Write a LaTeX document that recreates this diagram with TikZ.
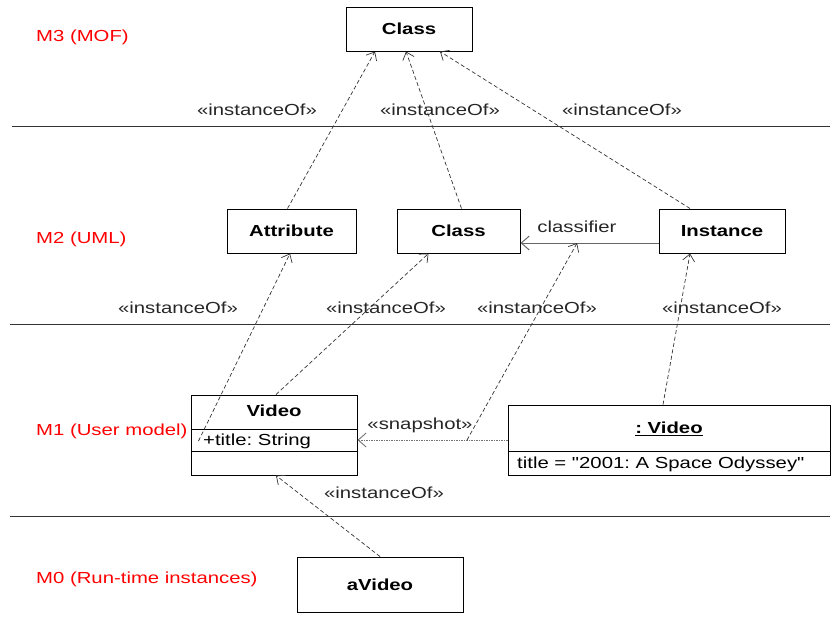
\documentclass[tikz,border=0pt]{standalone}
\usepackage{fontspec}
\setmainfont{Liberation Sans}[FakeStretch=1.27, Ligatures=TeXOff]
\usetikzlibrary{arrows.meta,calc}
\newcommand\diagsz{\fontsize{16}{19}\selectfont}
\frenchspacing
\tikzset{
  box/.style={draw=black, line width=1pt, rectangle, minimum height=44pt, inner sep=0pt, font=\diagsz\bfseries},
  lbl/.style={inner sep=0pt, text=black!85},
  layer/.style={inner sep=0pt, anchor=west, text=red},
  sep/.style={draw=black!80, line width=1pt},
  inst/.style={draw=black!80, line width=0.7pt, dash pattern=on 4pt off 2.5pt, -{Straight Barb[length=7pt,width=12pt]}},
  snap/.style={draw=black!55, line width=0.9pt, dash pattern=on 1.5pt off 1pt, -{Straight Barb[length=8pt,width=14pt]}},
  assoc/.style={draw=black!60, line width=1pt, -{Straight Barb[length=8pt,width=14pt]}},
}
\begin{document}
\begin{tikzpicture}[x=1pt,y=-1pt, font=\diagsz]
\useasboundingbox (0,0) rectangle (832,619);
% layer separators
\coordinate (s1a) at (12,126); \coordinate (s1b) at (830,126);
\coordinate (s2a) at (10,324); \coordinate (s2b) at (830,324);
\coordinate (s3a) at (10,516); \coordinate (s3b) at (830,516);
\draw[sep] (s1a) -- (s1b);
\draw[sep] (s2a) -- (s2b);
\draw[sep] (s3a) -- (s3b);
% layer labels
\node[layer] (m3) at (36,37) {M3 (MOF)};
\node[layer] (m2) at (36,239) {M2 (UML)};
\node[layer] (m1) at (36,431) {M1 (User model)};
\node[layer] (m0) at (36,579) {M0 (Run-time instances)};
% boxes
\node[box, minimum width=126pt] (c3) at (409,29) {Class};
\node[box, minimum width=129pt] (attr) at (291.5,231) {Attribute};
\node[box, minimum width=123pt] (c2) at (458.5,231) {Class};
\node[box, minimum width=126pt] (ins) at (722,231) {Instance};
\node[box, minimum width=166pt, minimum height=80pt] (video) at (274,435) {};
\node[box, minimum width=322pt, minimum height=70pt] (obj) at (669,440) {};
\node[box, minimum width=166pt, minimum height=55pt] (avideo) at (380,584.5) {aVideo};
% Video class compartments
\draw[line width=1pt] ([yshift=-35pt]video.north west) -- ([yshift=-35pt]video.north east);
\draw[line width=1pt] ([yshift=-57pt]video.north west) -- ([yshift=-57pt]video.north east);
\node[inner sep=0pt, font=\diagsz\bfseries] (vname) at (274,411) {Video};
\node[inner sep=0pt, anchor=west] (vattr) at (203,441) {+title: String};
% object compartments
\draw[line width=1pt] ([yshift=-47pt]obj.north west) -- ([yshift=-47pt]obj.north east);
\node[inner sep=0pt, font=\diagsz\bfseries] (oname) at (669,429) {\underline{: Video}};
\node[inner sep=0pt, anchor=west] (oattr) at (517,464) {title = "2001: A Space Odyssey"};
% classifier association
\draw[assoc] ([yshift=-12pt]ins.west) -- ([yshift=-12pt]c2.east)
  coordinate[pos=0.59] (clmid);
\node[lbl] (cl) at (577,227) {classifier};
% snapshot dependency
\draw[snap] (obj.west) -- ([yshift=-5pt]video.east) coordinate[pos=0.27] (snapmid);
\node[lbl] (snapl) at (420,425) {«snapshot»};
% instanceOf dependencies M2 -> M3
\draw[inst] ([xshift=-4pt]attr.north) -- ([xshift=-34pt]c3.south);
\draw[inst] ([xshift=3pt]c2.north) -- ([xshift=-3pt]c3.south);
\draw[inst] ([xshift=-32pt]ins.north) -- ([xshift=31pt]c3.south);
\node[lbl] (i1) at (257,110) {«instanceOf»};
\node[lbl] (i2) at (440,110) {«instanceOf»};
\node[lbl] (i3) at (622,110) {«instanceOf»};
% M1 -> M2
\coordinate (vstart) at ([xshift=8pt,yshift=-6pt]video.west);
\draw[inst] (vstart) -- ([xshift=-1.5pt]attr.south);
\draw[inst] ([xshift=2pt]video.north) -- ([xshift=-30pt]c2.south);
\draw[inst] (snapmid) -- (clmid);
\draw[inst] ([xshift=-6pt]obj.north) -- ([xshift=-32pt]ins.south);
\node[lbl] (i4) at (178,308) {«instanceOf»};
\node[lbl] (i5) at (386,308) {«instanceOf»};
\node[lbl] (i6) at (537,308) {«instanceOf»};
\node[lbl] (i7) at (722,308) {«instanceOf»};
% M0 -> M1
\draw[inst] (avideo.north) -- ([xshift=2pt]video.south);
\node[lbl] (i8) at (384,493) {«instanceOf»};
\end{tikzpicture}
\end{document}
